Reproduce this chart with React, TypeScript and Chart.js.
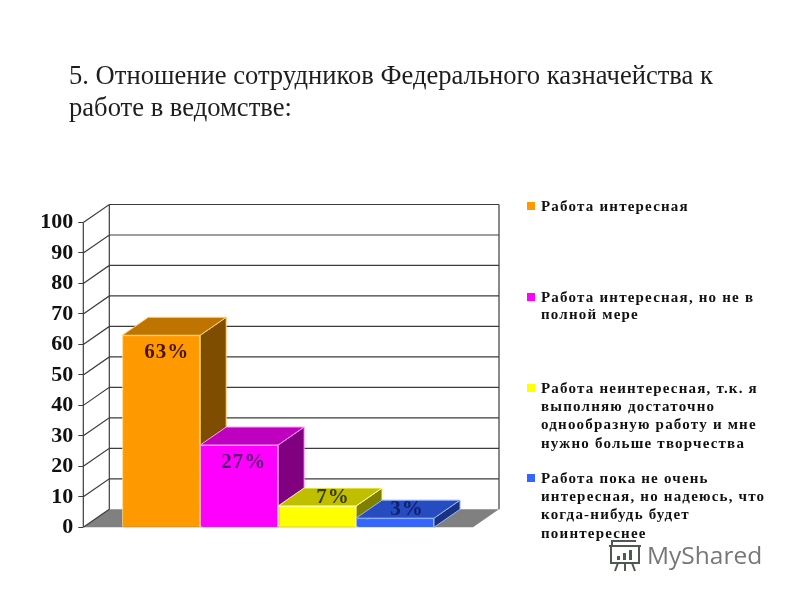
import React, { useEffect, useRef } from "react";
import { Chart, registerables } from "chart.js";

Chart.register(...registerables);

const titleLines = [
  "5. Отношение сотрудников Федерального казначейства к",
  "работе в ведомстве:",
];
const categories = [""];
const seriesNames = [
  "Работа интересная",
  "Работа интересная, но не в полной мере",
  "Работа неинтересная, т.к. я выполняю достаточно однообразную работу и мне нужно больше творчества",
  "Работа пока не очень интересная, но надеюсь, что когда-нибудь будет поинтереснее",
];
const legendLines = [
  ["Работа интересная"],
  ["Работа интересная, но не в", "полной мере"],
  ["Работа неинтересная, т.к. я", "выполняю достаточно", "однообразную работу и мне", "нужно больше творчества"],
  ["Работа пока не очень", "интересная, но надеюсь, что", "когда-нибудь будет", "поинтереснее"],
];
const seriesValues = [[63], [27], [7], [3]];
const valueLabels = ["63%", "27%", "7%", "3%"];
const frontColors = ["#FF9900", "#FF00FF", "#FFFF00", "#3366FF"];
const topColors = ["#BF7300", "#BF00BF", "#BFBF00", "#264CBF"];
const sideColors = ["#7F4D00", "#800080", "#808000", "#1A3380"];
const edgeColors = ["#FFD27A", "#FF9CFF", "#FFFF99", "#99B3FF"];
const labelColors = ["#4A1500", "#55106F", "#3A3A00", "#0F2070"];

const DX = 26;
const DY = -18;
const labelOffsets = [
  [5.5, 17],
  [4.5, 18],
  [16, -8],
  [12, -8.5],
];
const legendRows = [
  [207],
  [298, 315.5],
  [389, 407.5, 425.5, 444],
  [479, 497, 515.5, 534.5],
];

const poly = (ctx: CanvasRenderingContext2D, pts: number[][], fill: string, stroke?: string) => {
  ctx.beginPath();
  pts.forEach(([x, y], i) => (i ? ctx.lineTo(x, y) : ctx.moveTo(x, y)));
  ctx.closePath();
  ctx.fillStyle = fill;
  ctx.fill();
  if (stroke) {
    ctx.strokeStyle = stroke;
    ctx.lineWidth = 1;
    ctx.stroke();
  }
};

const wallsPlugin = {
  id: "walls",
  beforeDatasetsDraw(chart: any) {
    const { ctx, chartArea: a, scales } = chart;
    const y = scales.y;
    ctx.save();
    poly(ctx, [[a.left, a.bottom], [a.right, a.bottom], [a.right + DX, a.bottom + DY], [a.left + DX, a.bottom + DY]], "#808080");
    ctx.strokeStyle = "#3C3C3C";
    ctx.lineWidth = 1.2;
    ctx.beginPath();
    y.ticks.forEach((t: any) => {
      const py = y.getPixelForValue(t.value);
      ctx.moveTo(a.left, py);
      ctx.lineTo(a.left + DX, py + DY);
      if (t.value > 0) ctx.lineTo(a.right + DX, py + DY);
    });
    ctx.moveTo(a.left, a.top);
    ctx.lineTo(a.left, a.bottom);
    ctx.moveTo(a.left + DX, a.top + DY);
    ctx.lineTo(a.left + DX, a.bottom + DY);
    ctx.moveTo(a.right + DX, a.top + DY);
    ctx.lineTo(a.right + DX, a.bottom + DY);
    ctx.stroke();
    ctx.restore();
  },
  afterDatasetsDraw(chart: any) {
    const { ctx, scales, chartArea } = chart;
    const b = scales.y.getPixelForValue(0);
    ctx.save();
    // Repaint left to right, so that each box hides the side of the box behind it.
    seriesNames.forEach((_, i) => {
      const bar = chart.getDatasetMeta(i).data[0];
      const half = bar.width / 2;
      const l = bar.x - half;
      const r = bar.x + half;
      const t = bar.y;
      bar.draw(ctx, chartArea);
      poly(ctx, [[r, t], [r + DX, t + DY], [r + DX, b + DY], [r, b]], sideColors[i], edgeColors[i]);
      poly(ctx, [[l, t], [r, t], [r + DX, t + DY], [l + DX, t + DY]], topColors[i], edgeColors[i]);
    });
    ctx.textAlign = "center";
    ctx.textBaseline = "middle";
    ctx.font = 'bold 21px "Liberation Serif"';
    (ctx as any).letterSpacing = "1px";
    valueLabels.forEach((label, i) => {
      const bar = chart.getDatasetMeta(i).data[0];
      ctx.fillStyle = labelColors[i];
      ctx.fillText(label, bar.x + labelOffsets[i][0], bar.y + labelOffsets[i][1]);
    });
    (ctx as any).letterSpacing = "0px";
    ctx.restore();
  },
  afterDraw(chart: any) {
    const { ctx } = chart;
    ctx.save();
    ctx.textBaseline = "alphabetic";
    ctx.textAlign = "left";
    ctx.fillStyle = "#1E1E1E";
    ctx.font = '26.6px "Liberation Serif"';
    ctx.fillText(titleLines[0], 69, 84);
    ctx.fillText(titleLines[1], 69, 116);

    ctx.textBaseline = "middle";
    legendLines.forEach((lines, i) => {
      ctx.fillStyle = frontColors[i];
      ctx.fillRect(527, legendRows[i][0] - 5, 8, 8);
      ctx.fillStyle = "#111111";
      ctx.font = 'bold 15px "Liberation Serif"';
      (ctx as any).letterSpacing = "1.2px";
      lines.forEach((line, j) => ctx.fillText(line, 541, legendRows[i][j]));
      (ctx as any).letterSpacing = "0px";
    });

    // watermark
    ctx.fillStyle = "#777777";
    ctx.font = '24.5px "Open Sans"';
    ctx.textBaseline = "alphabetic";
    ctx.fillText("MyShared", 647, 564);
    ctx.strokeStyle = "#4E5A50";
    ctx.lineWidth = 2;
    ctx.strokeRect(611, 546, 28, 17);
    ctx.beginPath();
    ctx.moveTo(609, 546);
    ctx.lineTo(641, 546);
    ctx.moveTo(618, 563);
    ctx.lineTo(615, 571);
    ctx.moveTo(625, 563);
    ctx.lineTo(625, 571);
    ctx.moveTo(632, 563);
    ctx.lineTo(635, 571);
    ctx.moveTo(612, 546);
    ctx.lineTo(612, 541);
    ctx.lineTo(636, 541);
    ctx.stroke();
    ctx.fillStyle = "#4E5A50";
    ctx.fillRect(617, 556, 3, 4);
    ctx.fillRect(623, 553, 3, 7);
    ctx.fillRect(629, 550, 3, 10);
    ctx.restore();
  },
};

export default function App() {
  const ref = useRef<HTMLCanvasElement>(null);
  useEffect(() => {
    const chart = new Chart(ref.current as HTMLCanvasElement, {
      type: "bar",
      data: {
        labels: categories,
        datasets: seriesNames.map((name, i) => ({
          label: name,
          data: seriesValues[i],
          backgroundColor: frontColors[i],
          borderColor: edgeColors[i],
          borderWidth: 1,
          categoryPercentage: 0.8,
          barPercentage: 1,
        })),
      },
      options: {
        responsive: false,
        animation: false,
        layout: { padding: { left: 0, top: 222.5, right: 327, bottom: 72.7 } },
        plugins: { legend: { display: false }, title: { display: false }, tooltip: { enabled: false } },
        scales: {
          x: { display: false },
          y: {
            min: 0,
            max: 100,
            afterFit: (s: any) => {
              s.width = 83.3;
            },
            ticks: {
              stepSize: 10,
              padding: 5,
              color: "#111111",
              font: { family: '"Liberation Serif"', size: 22, weight: "bold" },
            },
            border: { display: false },
            grid: { drawOnChartArea: false, drawTicks: true, tickLength: 5, color: "#3C3C3C" },
          },
        },
      },
      plugins: [wallsPlugin],
    } as any);
    return () => chart.destroy();
  }, []);
  return (
    <canvas
      ref={ref}
      width={800}
      height={600}
      style={{ position: "fixed", left: 0, top: 0, background: "#FFFFFF" }}
    />
  );
}
